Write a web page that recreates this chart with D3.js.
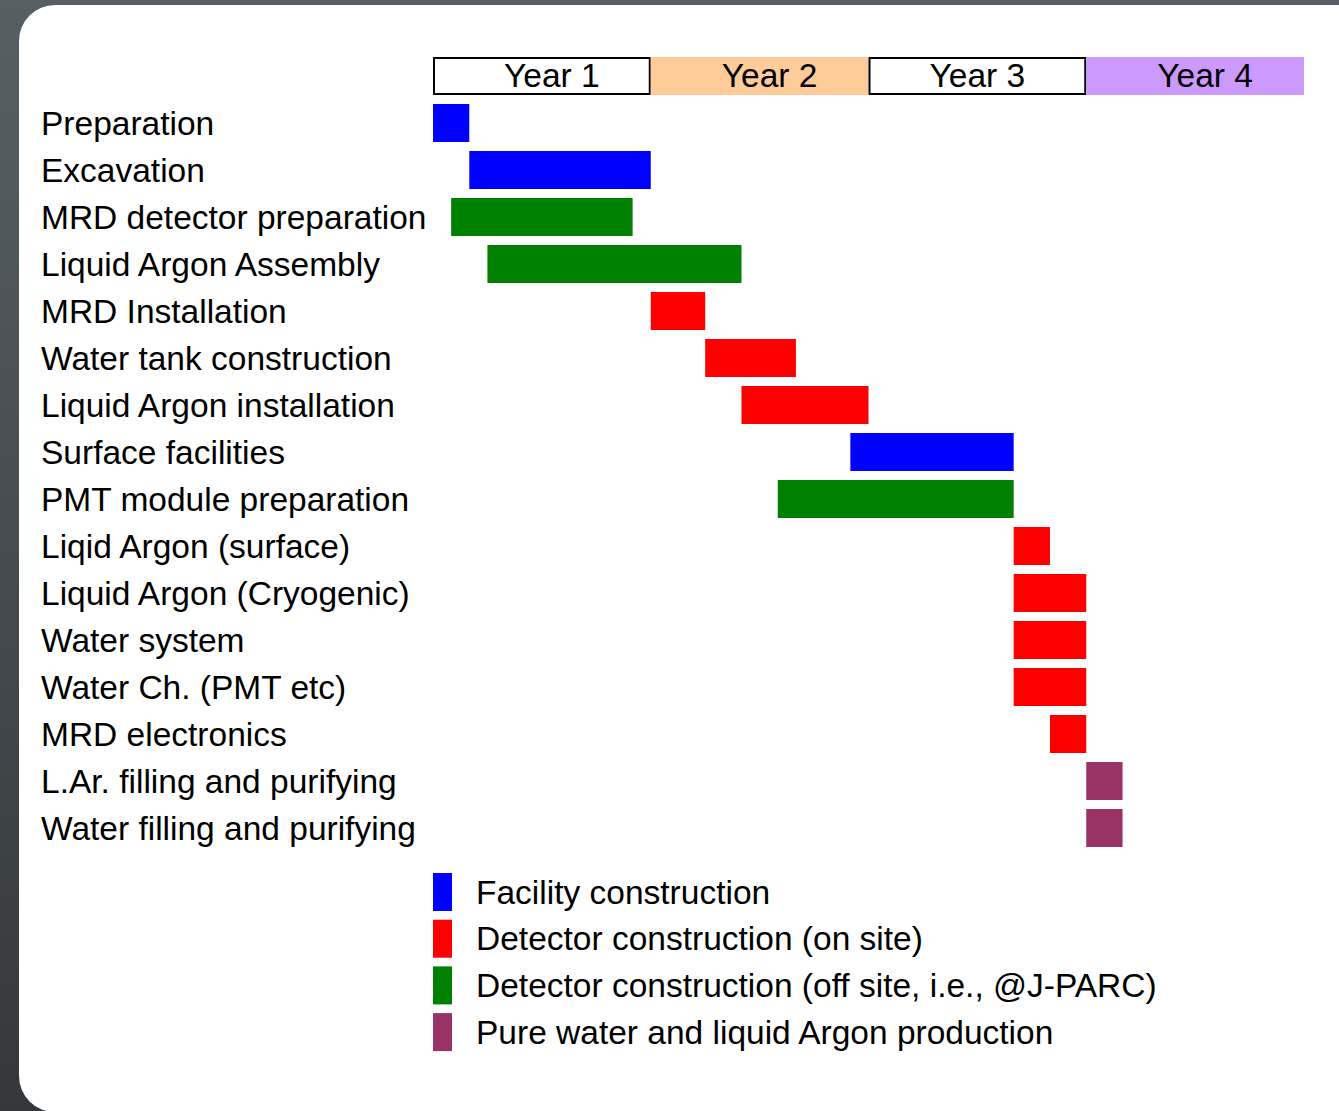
<!DOCTYPE html>
<html>
<head>
<meta charset="utf-8">
<script src="https://cdn.jsdelivr.net/npm/d3@7"></script>
<style>
	body { margin: 0; padding: 0; overflow: hidden; }
	svg { display: block; }
</style>
</head>
<body>
<script>
// schedule, in months from start
var tasks = ["Preparation", "Excavation", "MRD detector preparation", "Liquid Argon Assembly",
	"MRD Installation", "Water tank construction", "Liquid Argon installation", "Surface facilities",
	"PMT module preparation", "Liqid Argon (surface)", "Liquid Argon (Cryogenic)", "Water system",
	"Water Ch. (PMT etc)", "MRD electronics", "L.Ar. filling and purifying", "Water filling and purifying"];
var starts = [0, 2, 1, 3, 12, 15, 17, 23, 19, 32, 32, 32, 32, 34, 36, 36];
var ends   = [2, 12, 11, 17, 15, 20, 24, 32, 32, 34, 36, 36, 36, 36, 38, 38];
var kinds  = ["facility", "facility", "offsite", "offsite", "onsite", "onsite", "onsite", "facility",
	"offsite", "onsite", "onsite", "onsite", "onsite", "onsite", "production", "production"];

var years = ["Year 1", "Year 2", "Year 3", "Year 4"];
var yearFill = ["#ffffff", "#ffcc99", "#ffffff", "#cc99ff"];
var yearBox = [true, false, true, false];

var legendKeys = ["facility", "onsite", "offsite", "production"];
var legendLabels = ["Facility construction", "Detector construction (on site)",
	"Detector construction (off site, i.e., @J-PARC)", "Pure water and liquid Argon production"];
var kindColor = {facility: "#0000ff", onsite: "#ff0000", offsite: "#008000", production: "#993366"};

var W = 1339, H = 1111;
var fontSize = 33.5;
var svg = d3.select("body").append("svg")
	.attr("width", W)
	.attr("height", H)
	.style("font-family", "'Liberation Sans', Arial, Helvetica, sans-serif");

// dark backdrop
var grad = svg.append("defs").append("linearGradient")
	.attr("id", "bg").attr("x1", 0).attr("y1", 0).attr("x2", 0).attr("y2", 1);
grad.append("stop").attr("offset", "0%").attr("stop-color", "#566064");
grad.append("stop").attr("offset", "100%").attr("stop-color", "#35383b");
svg.append("rect").attr("width", W).attr("height", H).attr("fill", "url(#bg)");

// white panel
svg.append("rect")
	.attr("x", 19).attr("y", 5)
	.attr("width", 1360).attr("height", 1107)
	.attr("rx", 36).attr("ry", 36)
	.attr("fill", "#ffffff");

var xScale = d3.scaleLinear().domain([0, 48]).range([433, 1304]);
var yScale = d3.scaleBand()
	.domain(tasks)
	.range([104, 847])
	.paddingInner(9 / 47)
	.paddingOuter(0);

// year header
var head = svg.append("g");
head.selectAll("rect")
	.data(years)
	.enter().append("rect")
	.attr("x", function(d, i) { return xScale(i * 12) + (yearBox[i] ? 1 : 0); })
	.attr("y", function(d, i) { return yearBox[i] ? 58 : 57; })
	.attr("width", function(d, i) { return xScale(12) - xScale(0) - (yearBox[i] ? 2 : 0); })
	.attr("height", function(d, i) { return yearBox[i] ? 36 : 38; })
	.attr("fill", function(d, i) { return yearFill[i]; })
	.attr("stroke", function(d, i) { return yearBox[i] ? "#000" : "none"; })
	.attr("stroke-width", 2);
// labels sit a little right of centre, except in the boxed third year
head.selectAll("text")
	.data(years)
	.enter().append("text")
	.attr("x", function(d, i) { return xScale(i * 12 + 6) + (i == 2 ? 0 : 10); })
	.attr("y", 87)
	.attr("text-anchor", "middle")
	.attr("font-size", fontSize)
	.attr("fill", "#000")
	.text(function(d) { return d; });

// task labels
svg.append("g").selectAll("text")
	.data(tasks)
	.enter().append("text")
	.attr("x", 41)
	.attr("y", function(d) { return yScale(d) + yScale.bandwidth() / 2 + 11.5; })
	.attr("font-size", fontSize)
	.attr("fill", "#000")
	.text(function(d) { return d; });

// bars
svg.append("g").selectAll("rect")
	.data(tasks)
	.enter().append("rect")
	.attr("x", function(d, i) { return xScale(starts[i]); })
	.attr("y", function(d) { return yScale(d); })
	.attr("width", function(d, i) { return xScale(ends[i]) - xScale(starts[i]); })
	.attr("height", yScale.bandwidth())
	.attr("fill", function(d, i) { return kindColor[kinds[i]]; });

// legend
var legend = svg.append("g")
	.selectAll("g")
	.data(legendKeys)
	.enter().append("g")
	.attr("transform", function(d, i) { return "translate(433," + (873 + i * 46.7) + ")"; });
legend.append("rect")
	.attr("width", 19)
	.attr("height", 38)
	.attr("fill", function(d) { return kindColor[d]; });
legend.append("text")
	.attr("x", 43)
	.attr("y", 30.5)
	.attr("font-size", fontSize)
	.attr("fill", "#000")
	.text(function(d, i) { return legendLabels[i]; });
</script>
</body>
</html>
